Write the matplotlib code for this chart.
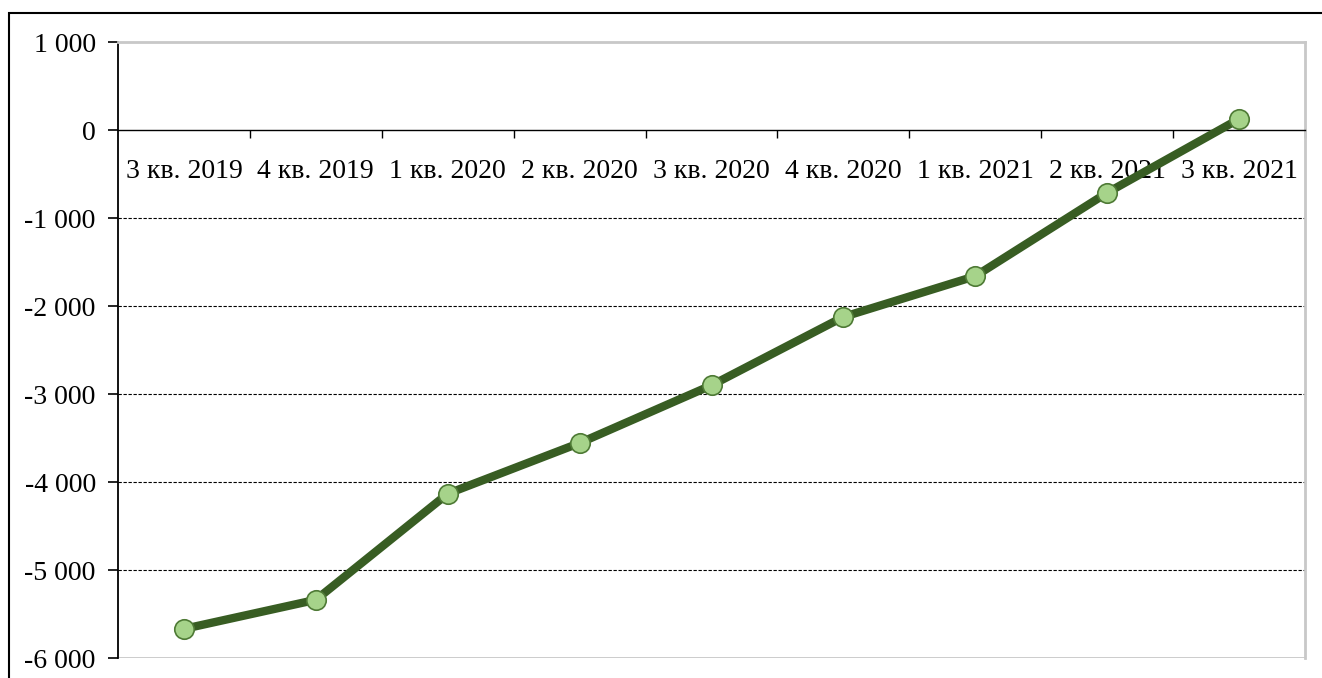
import matplotlib
matplotlib.use("Agg")
import matplotlib.pyplot as plt
from matplotlib.patches import Rectangle
from matplotlib.ticker import FuncFormatter, FixedLocator

# Данные
quarters = ["3 кв. 2019", "4 кв. 2019", "1 кв. 2020", "2 кв. 2020", "3 кв. 2020",
            "4 кв. 2020", "1 кв. 2021", "2 кв. 2021", "3 кв. 2021"]
values = [-5669, -5339, -4133, -3557, -2901, -2124, -1661, -713, 125]
y_ticks = [1000, 0, -1000, -2000, -3000, -4000, -5000, -6000]

plt.rcParams["font.family"] = ["Liberation Serif", "DejaVu Serif"]

fig = plt.figure(figsize=(13.22, 6.78), dpi=100)
ax = fig.add_axes([118 / 1322, 1 - 658 / 678, (1305 - 118) / 1322, (658 - 42) / 678])

x = list(range(len(quarters)))

# Сетка
for v in [-1000, -2000, -3000, -4000, -5000]:
    ax.axhline(v, color="black", linewidth=0.8, linestyle=(0, (3, 1.5)), zorder=1)
ax.axhline(-6000, color="#c8c8c8", linewidth=2, zorder=1)

# Линия
ax.plot(x, values, color="#385d23", linewidth=6, solid_capstyle="round",
        marker="o", markersize=14, markerfacecolor="#a6d38a",
        markeredgecolor="#4e7a35", markeredgewidth=1.2, zorder=3)

ax.set_xlim(-0.5, len(quarters) - 0.5)
ax.set_ylim(-6000, 1000)

# Оси
ax.spines["top"].set_color("#c8c8c8")
ax.spines["top"].set_linewidth(2)
ax.spines["right"].set_color("#c8c8c8")
ax.spines["right"].set_linewidth(2)
ax.spines["left"].set_color("black")
ax.spines["left"].set_linewidth(1.3)
ax.spines["bottom"].set_position(("data", 0))
ax.spines["bottom"].set_color("black")
ax.spines["bottom"].set_linewidth(1)

ax.set_yticks(y_ticks)
ax.yaxis.set_major_formatter(FuncFormatter(lambda v, p: f"{v:,.0f}".replace(",", " ")))
ax.tick_params(axis="y", direction="out", length=7, width=1.2, labelsize=20, pad=9)

ax.set_xticks(x)
ax.set_xticklabels(quarters)
ax.xaxis.set_minor_locator(FixedLocator([i + 0.5 for i in range(len(quarters))]))
ax.tick_params(axis="x", which="major", length=0, labelsize=20, pad=21)
ax.tick_params(axis="x", which="minor", direction="out", length=6, width=1)

# Рамка
fig.patches.append(Rectangle((9 / 1322, -0.05), 1.1, 1 - 13 / 678 + 0.05,
                             transform=fig.transFigure, fill=False,
                             edgecolor="black", linewidth=1.5))

fig.savefig("out.png", dpi=100)
